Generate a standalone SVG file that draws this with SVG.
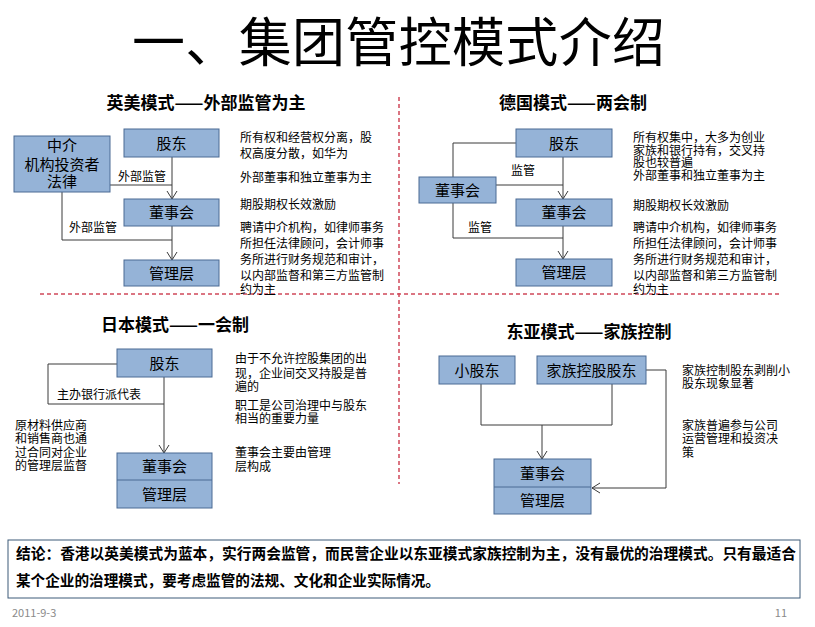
<svg xmlns="http://www.w3.org/2000/svg" width="815" height="627" viewBox="0 0 815 627">
<style>
text{font-family:"Noto Sans CJK SC","Liberation Sans",sans-serif;fill:#000}
.title{font-size:53px}
.sec{font-size:17px;font-weight:bold;text-anchor:middle}
.box{fill:#95b3d7;stroke:#4a6a94;stroke-width:1}
.bt{font-size:15px;text-anchor:middle}
.d{font-size:12px}
.lbl{font-size:12px;text-anchor:middle}
.c{fill:none;stroke:#3a3a3a;stroke-width:1}
.arr{marker-end:url(#ah)}
.dash{stroke:#d0485a;stroke-width:1.5;stroke-dasharray:4 3;fill:none}
.concl{font-size:15px;font-weight:bold}
.foot{font-size:11px;fill:#8a8a8a}
</style>
<defs>
<marker id="ah" markerUnits="userSpaceOnUse" markerWidth="12" markerHeight="12" viewBox="-9 -6 10 12" refX="0" refY="0" orient="auto">
<path d="M-8,-5 L0,0 L-8,5" fill="none" stroke="#3a3a3a" stroke-width="1"/>
</marker>
</defs>
<rect width="815" height="627" fill="#fff"/>
<text class="title" x="132" y="62" textLength="533" lengthAdjust="spacing">一、集团管控模式介绍</text>

<g id="dividers">
<line class="dash" x1="40" y1="294" x2="780" y2="294"/>
<line class="dash" x1="399" y1="97" x2="399" y2="484"/>
</g>

<g id="connectors">
<!-- top-left -->
<line class="c arr" x1="172" y1="157" x2="172" y2="199"/>
<line class="c" x1="110" y1="185" x2="172" y2="185"/>
<polyline class="c" points="62,192 62,240 172,240"/>
<line class="c arr" x1="172" y1="226" x2="172" y2="260"/>
<!-- top-right -->
<polyline class="c" points="516,143 453,143 453,177"/>
<line class="c arr" x1="563" y1="157" x2="563" y2="199"/>
<line class="c" x1="496" y1="185" x2="563" y2="185"/>
<polyline class="c" points="453,203 453,238 563,238"/>
<line class="c arr" x1="563" y1="226" x2="563" y2="259"/>
<!-- bottom-left -->
<polyline class="c" points="117,364 48,364 48,404 164,404"/>
<line class="c arr" x1="164" y1="377" x2="164" y2="453"/>
<!-- bottom-right -->
<polyline class="c" points="481,384 481,425 612,425 612,384"/>
<line class="c arr" x1="542" y1="425" x2="542" y2="459"/>
<polyline class="c arr" points="646,370 666,370 666,488 592,488"/>
<text class="lbl" x="142" y="180.5">外部监管</text>
<text class="lbl" x="93" y="231.5">外部监管</text>
<text class="lbl" x="523" y="174.5">监管</text>
<text class="lbl" x="480" y="231.5">监管</text>
<text class="d" x="57" y="398.5">主办银行派代表</text>
</g>

<!-- Top-left: Anglo-American -->
<text class="sec" x="206" y="109">英美模式——外部监管为主</text>
<g id="tl-agency">
<rect class="box" x="14" y="136" width="96" height="56"/>
<text class="bt" x="62" y="151">中介</text>
<text class="bt" x="62" y="169.5">机构投资者</text>
<text class="bt" x="62" y="187">法律</text>
</g>
<g id="tl-shareholder"><rect class="box" x="124" y="129" width="95" height="28"/><text class="bt" x="171.5" y="148.5">股东</text></g>
<g id="tl-board"><rect class="box" x="124" y="199" width="95" height="27"/><text class="bt" x="171.5" y="218">董事会</text></g>
<g id="tl-mgmt"><rect class="box" x="124" y="260" width="95" height="26"/><text class="bt" x="171.5" y="278.5">管理层</text></g>
<g id="tl-notes">
<text class="d" x="240" y="141.5">所有权和经营权分离，股</text>
<text class="d" x="240" y="157.5">权高度分散，如华为</text>
<text class="d" x="240" y="181.5">外部董事和独立董事为主</text>
<text class="d" x="240" y="208.5">期股期权长效激励</text>
<text class="d" x="240" y="231.5">聘请中介机构，如律师事务</text>
<text class="d" x="240" y="247.5">所担任法律顾问，会计师事</text>
<text class="d" x="240" y="263.5">务所进行财务规范和审计，</text>
<text class="d" x="240" y="279.5">以内部监督和第三方监管制</text>
<text class="d" x="240" y="293.5">约为主</text>
</g>

<!-- Top-right: German -->
<text class="sec" x="573" y="109">德国模式——两会制</text>
<g id="tr-shareholder"><rect class="box" x="516" y="129" width="96" height="28"/><text class="bt" x="564" y="148.5">股东</text></g>
<g id="tr-supervisory"><rect class="box" x="419" y="177" width="77" height="26"/><text class="bt" x="457.5" y="195.5">董事会</text></g>
<g id="tr-board"><rect class="box" x="516" y="199" width="96" height="27"/><text class="bt" x="564" y="218">董事会</text></g>
<g id="tr-mgmt"><rect class="box" x="516" y="259" width="96" height="27"/><text class="bt" x="564" y="278">管理层</text></g>
<g id="tr-notes">
<text class="d" x="633" y="141.5">所有权集中，大多为创业</text>
<text class="d" x="633" y="154.5">家族和银行持有，交叉持</text>
<text class="d" x="633" y="167">股也较普遍</text>
<text class="d" x="633" y="179.5">外部董事和独立董事为主</text>
<text class="d" x="633" y="209.5">期股期权长效激励</text>
<text class="d" x="633" y="231.5">聘请中介机构，如律师事务</text>
<text class="d" x="633" y="247.5">所担任法律顾问，会计师事</text>
<text class="d" x="633" y="263.5">务所进行财务规范和审计，</text>
<text class="d" x="633" y="279.5">以内部监督和第三方监管制</text>
<text class="d" x="633" y="293.5">约为主</text>
</g>

<!-- Bottom-left: Japanese -->
<text class="sec" x="175" y="331">日本模式——一会制</text>
<g id="bl-shareholder"><rect class="box" x="117" y="349" width="95" height="28"/><text class="bt" x="164.5" y="368.5">股东</text></g>
<g id="bl-board-mgmt">
<rect class="box" x="117" y="453" width="95" height="55"/>
<line x1="117" y1="480" x2="212" y2="480" stroke="#4a6a94" stroke-width="1"/>
<text class="bt" x="164.5" y="472">董事会</text>
<text class="bt" x="164.5" y="499.5">管理层</text>
</g>
<g id="bl-notes">
<text class="d" x="15" y="429.5">原材料供应商</text>
<text class="d" x="15" y="442.5">和销售商也通</text>
<text class="d" x="15" y="456.5">过合同对企业</text>
<text class="d" x="15" y="469.5">的管理层监督</text>
<text class="d" x="235" y="362.5">由于不允许控股集团的出</text>
<text class="d" x="235" y="377.5">现，企业间交叉持股是普</text>
<text class="d" x="235" y="390.5">遍的</text>
<text class="d" x="235" y="409.5">职工是公司治理中与股东</text>
<text class="d" x="235" y="422.5">相当的重要力量</text>
<text class="d" x="235" y="456.5">董事会主要由管理</text>
<text class="d" x="235" y="470.5">层构成</text>
</g>

<!-- Bottom-right: East Asian -->
<text class="sec" x="589" y="338">东亚模式——家族控制</text>
<g id="br-minority"><rect class="box" x="439" y="356" width="76" height="28"/><text class="bt" x="477" y="375.5">小股东</text></g>
<g id="br-family"><rect class="box" x="537" y="356" width="109" height="28"/><text class="bt" x="591.5" y="375.5">家族控股股东</text></g>
<g id="br-board-mgmt">
<rect class="box" x="494" y="459" width="97" height="55"/>
<line x1="494" y1="487" x2="591" y2="487" stroke="#4a6a94" stroke-width="1"/>
<text class="bt" x="542.5" y="478.5">董事会</text>
<text class="bt" x="542.5" y="506">管理层</text>
</g>
<g id="br-notes">
<text class="d" x="682" y="374.5">家族控制股东剥削小</text>
<text class="d" x="682" y="387.5">股东现象显著</text>
<text class="d" x="682" y="429.5">家族普遍参与公司</text>
<text class="d" x="682" y="442.5">运营管理和投资决</text>
<text class="d" x="682" y="456.5">策</text>
</g>

<g id="conclusion">
<rect x="8" y="540" width="792" height="58" fill="#fff" stroke="#3d5a78" stroke-width="1"/>
<text class="concl" x="16" y="559" textLength="780" lengthAdjust="spacingAndGlyphs">结论：香港以英美模式为蓝本，实行两会监管，而民营企业以东亚模式家族控制为主，没有最优的治理模式。只有最适合</text>
<text class="concl" x="16" y="586" textLength="424" lengthAdjust="spacingAndGlyphs">某个企业的治理模式，要考虑监管的法规、文化和企业实际情况。</text>
</g>

<text class="foot" x="12" y="617">2011-9-3</text>
<text class="foot" x="787" y="617" text-anchor="end">11</text>
</svg>
